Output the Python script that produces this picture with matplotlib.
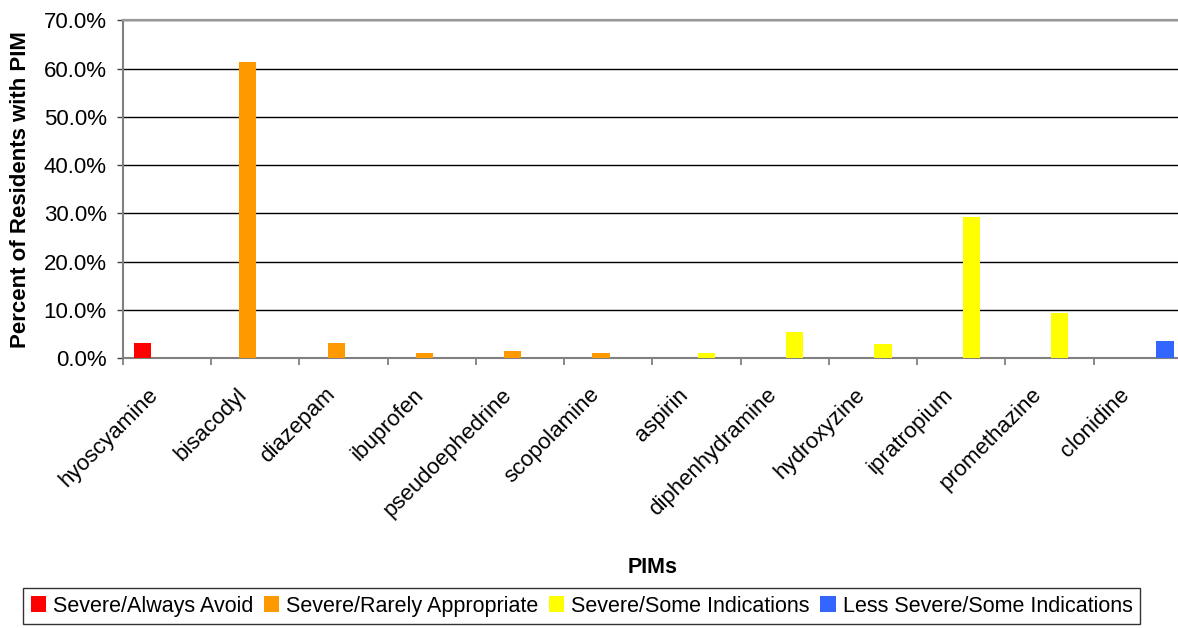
import matplotlib
matplotlib.use('Agg')
import matplotlib.pyplot as plt
import numpy as np

# percent of residents with each PIM
drugs = ['hyoscyamine', 'bisacodyl', 'diazepam', 'ibuprofen', 'pseudoephedrine',
         'scopolamine', 'aspirin', 'diphenhydramine', 'hydroxyzine', 'ipratropium',
         'promethazine', 'clonidine']
always_avoid = [3.1, 0, 0, 0, 0, 0, 0, 0, 0, 0, 0, 0]
rarely_appropriate = [0, 61.4, 3.1, 1.0, 1.45, 1.0, 0, 0, 0, 0, 0, 0]
some_indications = [0, 0, 0, 0, 0, 0, 1.0, 5.5, 3.0, 29.2, 9.3, 0]
less_severe = [0, 0, 0, 0, 0, 0, 0, 0, 0, 0, 0, 3.5]

series_names = ['Severe/Always Avoid', 'Severe/Rarely Appropriate',
                'Severe/Some Indications', 'Less Severe/Some Indications']
colors = ['#FF0000', '#FF9900', '#FFFF00', '#3366FF']

plt.rcParams['font.family'] = ['Liberation Sans', 'DejaVu Sans']

fig = plt.figure(figsize=(11.78, 6.28), dpi=100)
ax = fig.add_axes([0.1042, 0.4295, 0.8992, 0.5382])

x = np.arange(len(drugs))
w = 0.195
bars = []
for j, vals in enumerate([always_avoid, rarely_appropriate, some_indications, less_severe]):
    b = ax.bar(x + (j - 1.5) * w + 0.015, vals, w, color=colors[j], label=series_names[j], zorder=3)
    bars.append(b)

ax.set_xlim(-0.5, len(drugs) - 0.5)
ax.set_ylim(0, 70)
ax.set_yticks(np.arange(0, 71, 10))
ax.set_yticklabels(['%.1f%%' % v for v in np.arange(0, 71, 10)], fontsize=16)
ax.yaxis.grid(True, color='black', linewidth=1.0)
ax.set_axisbelow(True)

# labels sit a little left of the category centre, like the excel original
ax.set_xticks(x - 0.13)
ax.set_xticklabels(drugs, fontsize=16, rotation=45, ha='right', va='center',
                   rotation_mode='anchor')
ax.set_xticks(np.arange(-0.5, len(drugs)), minor=True)
ax.tick_params(axis='x', which='major', length=0, pad=24)
ax.tick_params(axis='x', which='minor', length=5, width=1.3, color='#808080', direction='out')
ax.tick_params(axis='y', length=4.5, width=1.0, color='#404040', pad=7)

for s in ['left', 'bottom']:
    ax.spines[s].set_color('#808080')
    ax.spines[s].set_linewidth(1.5)
ax.spines['top'].set_color('#999999')
ax.spines['top'].set_linewidth(1.6)
ax.spines['right'].set_visible(False)

ax.set_ylabel('Percent of Residents with PIM', fontsize=16, fontweight='bold')
ax.yaxis.set_label_coords(-0.087, 0.5)
ax.set_xlabel('PIMs', fontsize=15.5, fontweight='bold')
ax.xaxis.set_label_coords(0.5, -0.588)

leg = fig.legend(handles=bars, loc='upper left', bbox_to_anchor=(0.0195, 0.0637),
                 ncol=4, fontsize=15.5, handlelength=0.7, handleheight=0.7,
                 handletextpad=0.33, columnspacing=0.5, borderaxespad=0,
                 fancybox=False, frameon=True, borderpad=0.35)
leg.get_frame().set_edgecolor('black')
leg.get_frame().set_linewidth(1.0)

fig.savefig('out.png', dpi=100)
